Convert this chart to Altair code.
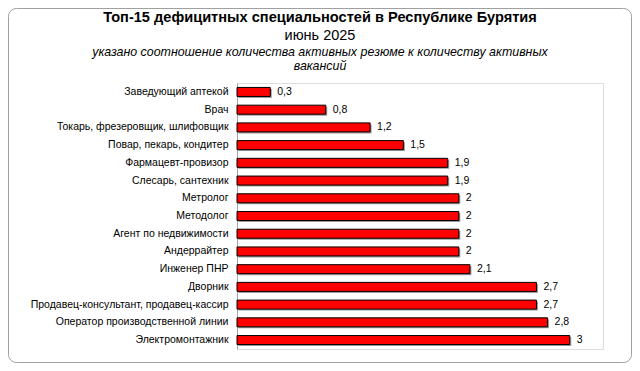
import altair as alt
import pandas as pd

categories = [
    "Заведующий аптекой",
    "Врач",
    "Токарь, фрезеровщик, шлифовщик",
    "Повар, пекарь, кондитер",
    "Фармацевт-провизор",
    "Слесарь, сантехник",
    "Метролог",
    "Методолог",
    "Агент по недвижимости",
    "Андеррайтер",
    "Инженер ПНР",
    "Дворник",
    "Продавец-консультант, продавец-кассир",
    "Оператор производственной линии",
    "Электромонтажник",
]
values = [0.3, 0.8, 1.2, 1.5, 1.9, 1.9, 2, 2, 2, 2, 2.1, 2.7, 2.7, 2.8, 3]
labels = [f"{v:g}".replace(".", ",") for v in values]

title_text = "Топ-15 дефицитных специальностей в Республике Бурятия"
period_text = "июнь 2025"
note_text = "указано соотношение количества активных резюме к количеству активных\nвакансий"

df = pd.DataFrame({"cat": categories, "val": values, "lab": labels})

W, H = 366, 266
PL, PT = 229, 75
CW, CH = 624, 355
FONT = "Liberation Sans"
CX = 320 - 8 - PL

x = alt.X("val:Q", scale=alt.Scale(domain=[0, 3.3], nice=False), axis=None)
y = alt.Y("cat:N", sort=categories, title=None,
          scale=alt.Scale(paddingInner=0.49, paddingOuter=0.25),
          axis=alt.Axis(ticks=False, domainColor="#a6a6a6", labelFont=FONT,
                        labelFontSize=10.5, labelColor="#000000", labelPadding=9,
                        labelLimit=300))

base = alt.Chart(df)

shadow = base.mark_bar(color="#9a9a9a", xOffset=1.5, yOffset=1.5, size=9).encode(x=x, y=y)
bars = base.mark_bar(color="#ff0000", stroke="#000000", strokeWidth=1, size=9).encode(x=x, y=y)
text = base.mark_text(align="left", dx=7, font=FONT, fontSize=10.5, color="#000000").encode(
    x=x, y=y, text="lab:N")

hdr = pd.DataFrame({"t": [title_text], "p": [period_text], "n": [note_text]})

title_mark = alt.Chart(hdr).mark_text(
    font=FONT, fontSize=14.6, fontWeight="bold", align="center", baseline="middle", color="#000000"
).encode(x=alt.value(CX), y=alt.value(18 - 8 - PT), text="t:N")

period_mark = alt.Chart(hdr).mark_text(
    font=FONT, fontSize=14.5, align="center", baseline="middle", color="#000000"
).encode(x=alt.value(CX), y=alt.value(36 - 8 - PT), text="p:N")

note = alt.Chart(hdr).mark_text(
    font=FONT, fontSize=12.4, fontStyle="italic", lineBreak="\n", align="center",
    baseline="middle", lineHeight=14, color="#000000"
).encode(x=alt.value(CX), y=alt.value(52 - 8 - PT), text="n:N")

frame = alt.Chart(pd.DataFrame({"a": [0]})).mark_rect(
    fill=None, stroke="#a0a0a0", strokeWidth=1, cornerRadius=8
).encode(x=alt.value(-PL + 0.5), x2=alt.value(CW - PL - 0.5),
         y=alt.value(-PT + 0.5), y2=alt.value(CH - PT - 0.5))

chart = alt.layer(frame, shadow, bars, text, title_mark, period_mark, note).properties(
    width=W, height=H,
    autosize=alt.AutoSizeParams(type="none"),
    padding={"left": PL, "top": PT, "right": CW - PL - W, "bottom": CH - PT - H},
).configure_view(stroke=None).configure(background="#ffffff")

chart.save("out.html", embed_options={"renderer": "svg", "actions": False})
